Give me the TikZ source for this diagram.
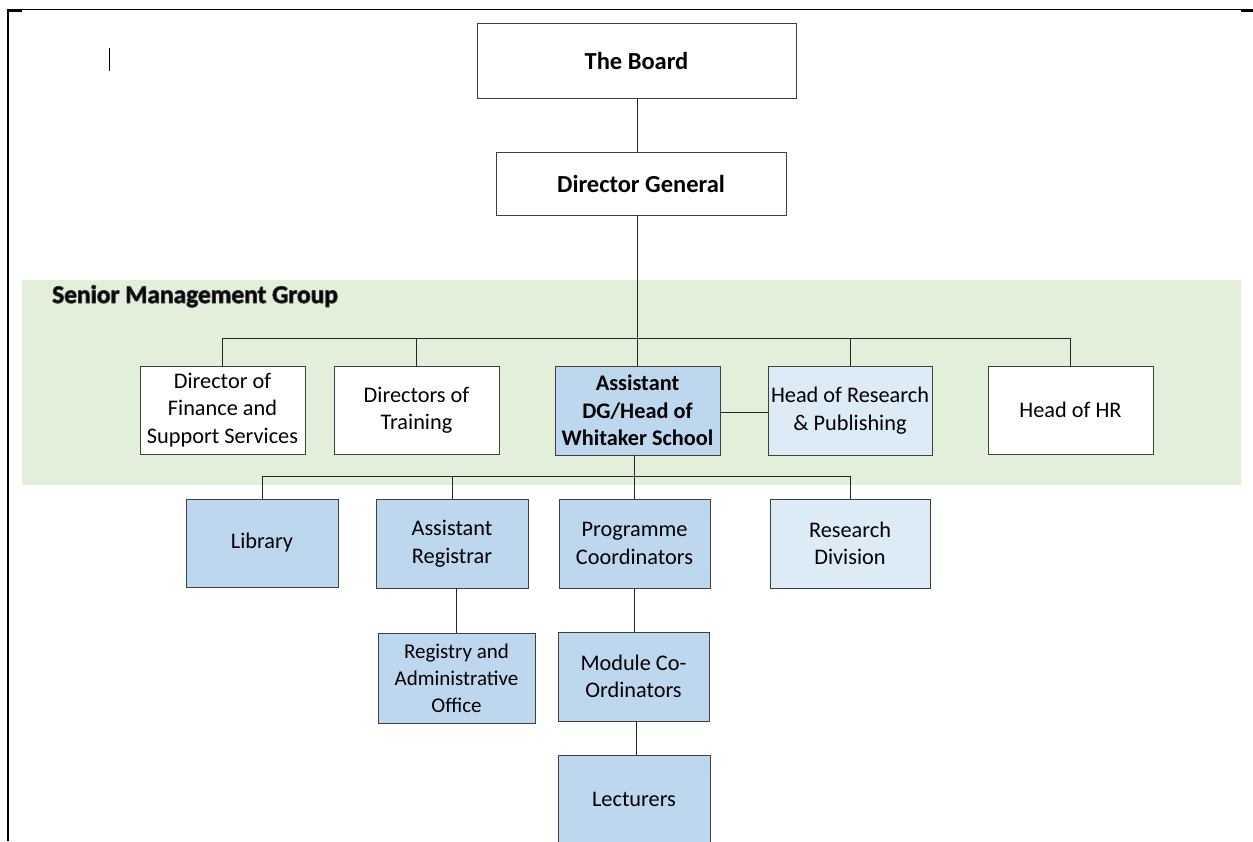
\documentclass[tikz,border=0pt]{standalone}
\usepackage{fontspec}
\setmainfont{Carlito}
% stroked outline around a text, giving it a soft dark edge
\newcommand{\haloText}[1]{\special{pdf:literal 2 Tr 0.9 w 0.22 G 1 j}#1\special{pdf:literal 0 Tr 0 w 0 G}}
\begin{document}
\begin{tikzpicture}[x=1pt,y=-1pt,
  box/.style={draw=black!75, line width=0.9pt, inner sep=0pt, align=center,
    font=\fontsize{22.3}{27.5}\selectfont},
  plain/.style={box, fill=white},
  blue/.style={box, fill=ADGblue},
  pale/.style={box, fill=PaleBlue},
  link/.style={draw=black!85, line width=0.9pt},
  smgtext/.style={anchor=base west, inner sep=0pt, font=\fontsize{25.4}{30}\selectfont\bfseries}
]
\definecolor{ADGblue}{HTML}{BDD7EE}
\definecolor{PaleBlue}{HTML}{DDEBF7}
\definecolor{SMGgreen}{HTML}{E2EFDA}
\useasboundingbox (0,0) rectangle (1253,841);
\clip (0,0) rectangle (1253,841);
\fill[white] (0,0) rectangle (1253,841);

% page frame
\draw[line width=1pt] (8,9.5) -- (1253,9.5);
\draw[line width=2pt] (7,10.5) -- (22,10.5);
\draw[line width=2pt] (1241,10.5) -- (1253,10.5);
\draw[line width=2.5pt] (8,9) -- (8,841);
\draw[line width=1pt] (109,48) -- (109,71);

% senior management band
\fill[SMGgreen] (22,280) rectangle (1241,485);
\node[smgtext] (smg) at (52,303) {\haloText{Senior Management Group}};

% top of the hierarchy
\node[plain, minimum width=319pt, minimum height=75pt, font=\fontsize{24.5}{29}\selectfont\bfseries]
  (board) at (636.5,60.5) {The Board};
\node[plain, minimum width=290pt, minimum height=63pt, font=\fontsize{24.5}{29}\selectfont\bfseries]
  (dg) at (641,183.5) {Director General};

% senior management group
\node[plain, minimum width=165pt, minimum height=88pt] (fin) at (222.5,410)
  {Director of\\Finance and\\Support Services};
\node[plain, minimum width=165pt, minimum height=88pt] (trn) at (416.5,410)
  {Directors of\\Training};
\node[blue, minimum width=165pt, minimum height=89pt, font=\fontsize{22.3}{27.5}\selectfont\bfseries]
  (adg) at (637.5,410.5) {Assistant\\DG/Head of\\Whitaker School};
\node[pale, minimum width=164pt, minimum height=89pt] (hrp) at (850,410.5)
  {Head of Research\\\& Publishing};
\node[plain, minimum width=165pt, minimum height=88pt] (hr) at (1070.5,410)
  {Head of HR};

% school units
\node[blue, minimum width=152pt, minimum height=88pt] (lib) at (262,543) {Library};
\node[blue, minimum width=152pt, minimum height=89pt] (areg) at (452,543.5)
  {Assistant\\Registrar};
\node[blue, minimum width=151pt, minimum height=89pt] (prog) at (634.5,543.5)
  {Programme\\Coordinators};
\node[pale, minimum width=160pt, minimum height=89pt] (rdiv) at (850,543.5)
  {Research\\Division};
\node[blue, minimum width=157pt, minimum height=90pt, font=\fontsize{21}{27}\selectfont]
  (reg) at (456.5,678) {Registry and\\Administrative\\Office};
\node[blue, minimum width=151pt, minimum height=89pt] (mod) at (633.5,676.5)
  {Module Co-\\Ordinators};
\node[blue, minimum width=152pt, minimum height=88pt] (lect) at (634,799) {Lecturers};

% connectors
\draw[link] (board.south -| 637,0) -- (dg.north -| 637,0);
\coordinate (bar) at (637,338);
\draw[link] (dg.south -| bar) -- (bar);
\draw[link] (fin.north) -- (fin.north |- bar) -| (hr.north);
\draw[link] (trn.north) -- (trn.north |- bar);
\draw[link] (adg.north -| bar) -- (bar);
\draw[link] (hrp.north) -- (hrp.north |- bar);
\draw[link] (adg.east |- 0,412) -- (hrp.west |- 0,412);

\coordinate (bar2) at (634,476);
\draw[link] (adg.south -| bar2) -- (bar2);
\draw[link] (lib.north) -- (lib.north |- bar2) -| (rdiv.north);
\draw[link] (areg.north) -- (areg.north |- bar2);
\draw[link] (prog.north -| bar2) -- (bar2);
\draw[link] (reg.north) -- (reg.north |- areg.south);
\draw[link] (prog.south -| 634,0) -- (mod.north -| 634,0);
\draw[link] (mod.south -| 636,0) -- (lect.north -| 636,0);
\end{tikzpicture}
\end{document}
